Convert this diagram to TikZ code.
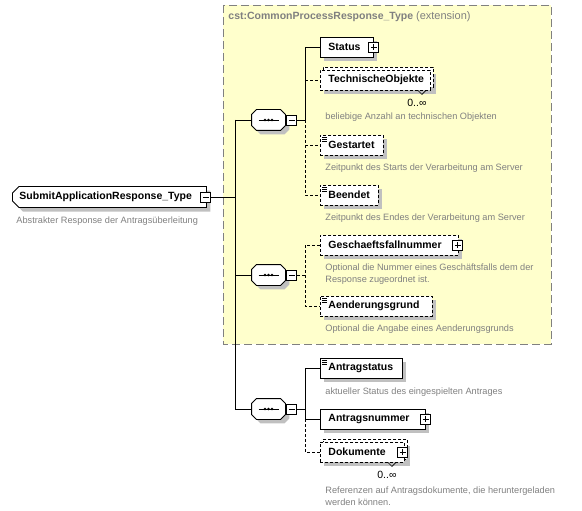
\documentclass[tikz,border=0pt]{standalone}
\usepackage{fontspec}
\setmainfont{Liberation Sans}
\usetikzlibrary{positioning,shapes.misc,shadows}

\definecolor{boxyellow}{RGB}{255,255,204}
\definecolor{shadowgray}{RGB}{192,192,192}
\definecolor{notegray}{RGB}{128,128,128}

\newcommand{\namefont}{\fontsize{10.5}{12}\selectfont\bfseries}
\newcommand{\notefont}{\fontsize{9.2}{12}\selectfont}
\hyphenpenalty=10000
\exhyphenpenalty=10000

% octagon of a sequence, drawn round its node
\newcommand{\seqoutline}[1]{%
  \draw[fill=white, shadowed] ([xshift=5pt]#1.north west) -- ([xshift=-5pt]#1.north east) -- ([yshift=-5pt]#1.north east) -- ([yshift=5pt]#1.south east) -- ([xshift=-5pt]#1.south east) -- ([xshift=5pt]#1.south west) -- ([yshift=5pt]#1.south west) -- ([yshift=-5pt]#1.north west) -- cycle;
  \draw ([xshift=-10pt]#1.center) -- ([xshift=10pt]#1.center);
  \foreach \d in {-3.5,0,3.5} \fill ([xshift=\d pt]#1.center) circle (1.4pt);}
% documentation mark in the upper left corner
\newcommand{\docmark}[1]{%
  \draw[line width=0.6pt] ([xshift=2pt,yshift=-3pt]#1.north west) -- ([xshift=7pt,yshift=-3pt]#1.north west)
    ([xshift=2pt,yshift=-5pt]#1.north west) -- ([xshift=7pt,yshift=-5pt]#1.north west)
    ([xshift=2pt,yshift=-7pt]#1.north west) -- ([xshift=7pt,yshift=-7pt]#1.north west);}

\begin{document}
\begin{tikzpicture}[x=1pt,y=-1pt,line width=0.9pt]
    % Define styles for shapes
    \tikzstyle{optional} = [dash pattern=on 3pt off 2pt]
    \tikzstyle{shadowed} = [drop shadow={shadow xshift=4pt,shadow yshift=-4pt,fill=shadowgray,opacity=1}]
    \tikzstyle{element} = [draw, fill=white, shadowed, anchor=west, minimum height=20pt, inner xsep=8pt, inner ysep=0pt, align=left, font=\namefont]
    \tikzstyle{multi} = [drop shadow={shadow xshift=6pt,shadow yshift=-4pt,fill=shadowgray,opacity=1}, general shadow={fill=white,draw,optional,shadow xshift=3pt,shadow yshift=3pt}]
    \tikzstyle{root} = [chamfered rectangle, chamfered rectangle corners={north west,south west}, chamfered rectangle xsep=3pt, draw, fill=white, shadowed, anchor=west, minimum height=21pt, text width=180pt, inner xsep=4pt, inner ysep=0pt, align=left, font=\namefont]
    \tikzstyle{sequence} = [minimum width=33pt, minimum height=20pt, inner sep=0pt]
    \tikzstyle{toggle} = [draw, fill=white, minimum size=10pt, inner sep=0pt]
    \tikzstyle{collapse} = [toggle, path picture={\draw ([xshift=-3pt]path picture bounding box.center) -- ([xshift=3pt]path picture bounding box.center);}]
    \tikzstyle{expand} = [toggle, path picture={\draw ([xshift=-3pt]path picture bounding box.center) -- ([xshift=3pt]path picture bounding box.center) ([yshift=-3pt]path picture bounding box.center) -- ([yshift=3pt]path picture bounding box.center);}]
    \tikzstyle{note} = [anchor=west, inner sep=0pt, text=notegray, font=\notefont, align=left]
    \tikzstyle{occurs} = [anchor=east, inner sep=0pt, font=\fontsize{10.5}{12}\selectfont]

    \useasboundingbox (0,0) rectangle (582,511);

    % Draw the extension frame
    \draw[notegray, fill=boxyellow, dash pattern=on 8pt off 4pt] (223,5) rectangle (551,344);
    \node[anchor=west, inner sep=0pt, text=notegray] (basetype) at (228,17) {\namefont cst:CommonProcessResponse\_Type \fontsize{11}{12}\mdseries\selectfont(extension)};

    % Draw the root type
    \node[root] (submit) at (12,197) {SubmitApplicationResponse\_Type};
    \node[collapse] (submittoggle) at ([xshift=-1pt]submit.east) {};
    \node[note] (submitnote) at (16,221) {Abstrakter Response der Antragsüberleitung};

    % Draw the three sequences
    \node[sequence] (seqa) at (268.5,120) {};
    \seqoutline{seqa}
    \node[collapse, right=1pt of seqa] (seqatoggle) {};
    \node[sequence] (seqb) at (268.5,275) {};
    \seqoutline{seqb}
    \node[collapse, right=1pt of seqb] (seqbtoggle) {};
    \node[sequence] (seqc) at (268.5,409) {};
    \seqoutline{seqc}
    \node[collapse, right=1pt of seqc] (seqctoggle) {};

    % Draw the elements of the first sequence
    \node[element, text width=37pt] (status) at (320,47) {Status};
    \node[expand] (statustoggle) at (status.east) {};
    \node[element, optional, multi, text width=94pt] (techobj) at (320,80) {TechnischeObjekte};
    \draw[line width=0.6pt] ([xshift=-13pt]techobj.south east) -- ([xshift=-9pt,yshift=-4pt]techobj.south east) -- ([xshift=-5pt]techobj.south east);
    \node[occurs] (techobjocc) at (427,103) {0..∞};
    \node[note] (techobjnote) at (325,117) {beliebige Anzahl an technischen Objekten};
    \node[element, optional, text width=47pt] (gestartet) at (320,145) {Gestartet};
    \docmark{gestartet}
    \node[note] (gestartetnote) at (325,168) {Zeitpunkt des Starts der Verarbeitung am Server};
    \node[element, optional, text width=42pt] (beendet) at (320,195) {Beendet};
    \docmark{beendet}
    \node[note] (beendetnote) at (325,218) {Zeitpunkt des Endes der Verarbeitung am Server};

    % Draw the elements of the second sequence
    \node[element, optional, text width=122pt] (geschaeft) at (320,245) {Geschaeftsfallnummer};
    \node[expand] (geschaefttoggle) at ([xshift=-1pt]geschaeft.east) {};
    \node[note] (geschaeftnote) at (325,274) {Optional die Nummer eines Geschäftsfalls dem der\\Response zugeordnet ist.};
    \node[element, optional, text width=96pt] (aenderung) at (320,306) {Aenderungsgrund};
    \docmark{aenderung}
    \node[note] (aenderungnote) at (325,329) {Optional die Angabe eines Aenderungsgrunds};

    % Draw the elements of the third sequence
    \node[element, text width=66pt] (antragstatus) at (320,368) {Antragstatus};
    \docmark{antragstatus}
    \node[note] (antragstatusnote) at (325,392) {aktueller Status des eingespielten Antrages};
    \node[element, text width=89pt] (antragsnummer) at (320,419) {Antragsnummer};
    \node[expand] (antragsnummertoggle) at (antragsnummer.east) {};
    \node[element, optional, multi, text width=68pt] (dokumente) at (320,452) {Dokumente};
    \node[expand] (dokumentetoggle) at ([xshift=-2pt]dokumente.east) {};
    \draw[line width=0.6pt] ([xshift=-17pt]dokumente.south east) -- ([xshift=-13pt,yshift=-4pt]dokumente.south east) -- ([xshift=-9pt]dokumente.south east);
    \node[occurs] (dokumenteocc) at (397,475) {0..∞};
    \node[note] (dokumentenote) at (325,496) {Referenzen auf Antragsdokumente, die heruntergeladen\\werden können.};

    % Draw the connectors
    \coordinate (rootbus) at (235,120);
    \draw (submittoggle.east) -- (submittoggle.east -| rootbus);
    \draw (rootbus) -- (seqa);
    \draw (rootbus) |- (seqb);
    \draw (rootbus) |- (seqc);

    \coordinate (seqabus) at (305,120);
    \draw (seqatoggle) -- (seqabus) |- (status);
    \draw[optional] (seqabus) |- (techobj);
    \draw[optional] (seqabus) |- (gestartet);
    \draw[optional] (seqabus) |- (beendet);

    \coordinate (seqbbus) at (305,275);
    \draw[optional] (seqbtoggle) -- (seqbbus) |- (geschaeft);
    \draw[optional] (seqbbus) |- (aenderung);

    \coordinate (seqcbus) at (305,409);
    \draw (seqctoggle) -- (seqcbus) |- (antragstatus);
    \draw (seqcbus) |- (antragsnummer);
    \draw[optional] (seqcbus) |- (dokumente);
\end{tikzpicture}
\end{document}
